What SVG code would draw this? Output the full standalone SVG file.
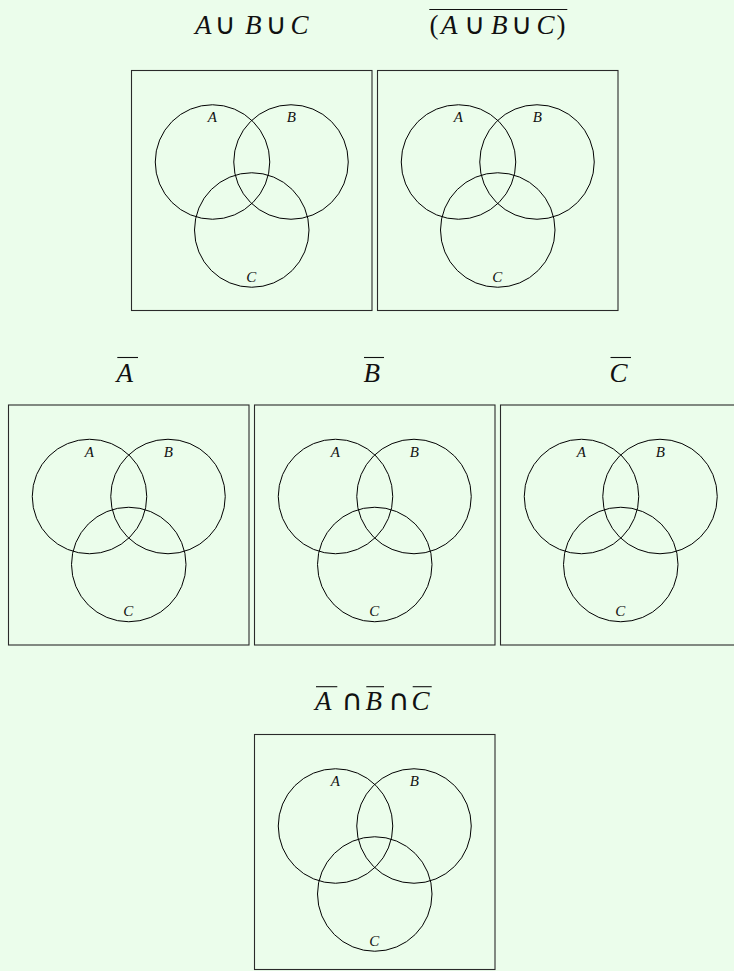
<svg xmlns="http://www.w3.org/2000/svg" xmlns:xlink="http://www.w3.org/1999/xlink" width="734" height="971" viewBox="0 0 734 971">
<style>
.bg{fill:#ebfdeb}
.box{fill:none;stroke:#2a2a2a;stroke-width:1.1}
.c{fill:none;stroke:#000;stroke-width:1}
.lbl{font-family:"Liberation Serif",serif;font-style:italic;font-size:15px;fill:#111;text-anchor:middle}
.t{font-family:"Liberation Serif",serif;font-style:italic;font-size:27px;fill:#111}
.op{font-family:"DejaVu Sans",sans-serif;font-style:normal;font-size:29px;fill:#111;text-anchor:middle}
.par{font-family:"Liberation Serif",serif;font-style:normal;font-size:27px;fill:#111}
.ov{stroke:#111;stroke-width:1.1}
</style>
<defs>
<g id="venn">
<circle class="c" cx="81" cy="91.5" r="57.25"/>
<circle class="c" cx="159.5" cy="91.5" r="57.25"/>
<circle class="c" cx="120.25" cy="159.5" r="57.25"/>
<text class="lbl" x="80.8" y="51.7">A</text>
<text class="lbl" x="159.8" y="51.7">B</text>
<text class="lbl" x="119.8" y="211">C</text>
</g>
</defs>
<rect class="bg" x="0" y="0" width="734" height="971"/>

<g id="title-union">
<text class="t" x="195" y="34">A</text>
<text class="op" x="225" y="34">∪</text>
<text class="t" x="245" y="34">B</text>
<text class="op" x="276.2" y="34">∪</text>
<text class="t" x="290.5" y="34">C</text>
</g>
<g id="title-complement-union">
<line class="ov" x1="429.3" y1="9.5" x2="567.3" y2="9.5"/>
<text class="par" x="429.5" y="34">(</text>
<text class="t" x="441" y="34">A</text>
<text class="op" x="474.5" y="34">∪</text>
<text class="t" x="491" y="34">B</text>
<text class="op" x="521.7" y="34">∪</text>
<text class="t" x="536.5" y="34">C</text>
<text class="par" x="556.5" y="34">)</text>
</g>

<g id="venn-union">
<rect class="box" x="131.5" y="70.5" width="240.5" height="240"/>
<use xlink:href="#venn" x="131.5" y="70.5"/>
</g>
<g id="venn-complement-union">
<rect class="box" x="377.5" y="70.5" width="240.5" height="240"/>
<use xlink:href="#venn" x="377.5" y="70.5"/>
</g>

<g id="title-notA">
<line class="ov" x1="117.3" y1="357.5" x2="138" y2="357.5"/>
<text class="t" x="116.5" y="381.7">A</text>
</g>
<g id="title-notB">
<line class="ov" x1="364" y1="357.5" x2="384" y2="357.5"/>
<text class="t" x="363.5" y="381.7">B</text>
</g>
<g id="title-notC">
<line class="ov" x1="610.5" y1="357.5" x2="631" y2="357.5"/>
<text class="t" x="609.5" y="381.7">C</text>
</g>

<g id="venn-notA">
<rect class="box" x="8.5" y="405" width="240.5" height="240"/>
<use xlink:href="#venn" x="8.5" y="405"/>
</g>
<g id="venn-notB">
<rect class="box" x="254.5" y="405" width="240.5" height="240"/>
<use xlink:href="#venn" x="254.5" y="405"/>
</g>
<g id="venn-notC">
<rect class="box" x="500.5" y="405" width="240.5" height="240"/>
<use xlink:href="#venn" x="500.5" y="405"/>
</g>

<g id="title-intersection">
<line class="ov" x1="316" y1="686.7" x2="337.3" y2="686.7"/>
<line class="ov" x1="366.3" y1="686.7" x2="384" y2="686.7"/>
<line class="ov" x1="412.7" y1="686.7" x2="431.7" y2="686.7"/>
<text class="t" x="315" y="710">A</text>
<text class="op" x="352" y="710">∩</text>
<text class="t" x="365.5" y="710">B</text>
<text class="op" x="398.9" y="710">∩</text>
<text class="t" x="411.5" y="710">C</text>
</g>

<g id="venn-intersection">
<rect class="box" x="254.5" y="734.5" width="240.5" height="235"/>
<use xlink:href="#venn" x="254.5" y="734.5"/>
</g>
</svg>
